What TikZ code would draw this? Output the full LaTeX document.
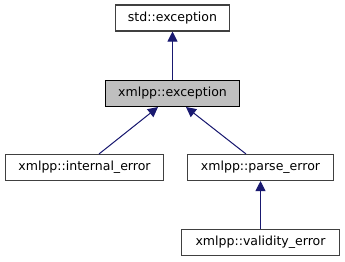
\documentclass[tikz,border=0pt]{standalone}
\usepackage{fontspec}
\setmainfont{DejaVu Sans}
\usetikzlibrary{arrows.meta,calc}
\definecolor{edgeblue}{HTML}{191970}
\definecolor{boxline}{HTML}{404040}
\definecolor{current}{HTML}{BFBFBF}
\tikzset{
  every node/.style={font=\fontsize{9.4}{11}\selectfont},
  cls/.style={draw=boxline, line width=0.8pt, fill=white, inner sep=0pt, minimum height=19.5pt},
  curcls/.style={cls, draw=black, fill=current},
  inherit/.style={-{Triangle[length=7.5pt,width=7.5pt]}, line width=0.75pt, draw=edgeblue, fill=edgeblue},
}

\begin{document}
\begin{tikzpicture}[x=0.75pt,y=-0.75pt]
\useasboundingbox (0,0) rectangle (345,261);
\node[cls, minimum width=86pt] (stdexc) at (172.5,18) {std::exception};
\node[curcls, minimum width=101pt] (exc) at (172.5,93.5) {xmlpp::exception};
\node[cls, minimum width=119pt] (internal) at (84.5,167.5) {xmlpp::internal\_error};
\node[cls, minimum width=109pt] (parse) at (260.5,167.5) {xmlpp::parse\_error};
\node[cls, minimum width=119pt] (validity) at (260.5,242.5) {xmlpp::validity\_error};
% base classes get the arrow heads
\draw[inherit] (exc) -- (stdexc);
\draw[inherit] ($(internal.north)+(14.5,0)$) -- ($(exc.south)+(-14.5,0)$);
\draw[inherit] ($(parse.north)+(-14.5,0)$) -- ($(exc.south)+(13.5,0)$);
\draw[inherit] (validity) -- (parse);
\end{tikzpicture}
\end{document}
